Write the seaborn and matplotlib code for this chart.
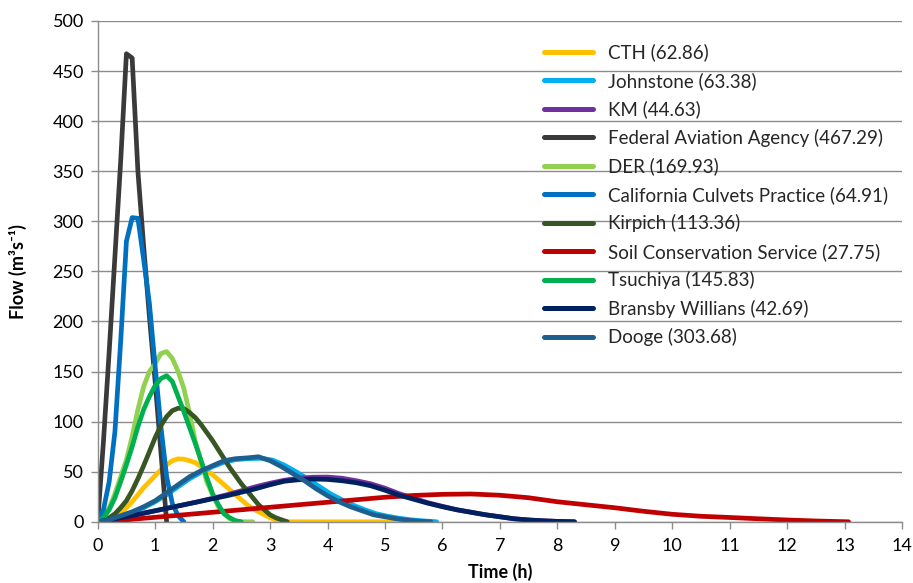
import pandas as pd
import seaborn as sns
import matplotlib.pyplot as plt

# legend text (as printed on the chart) and line colours
methods = ["CTH (62.86)", "Johnstone (63.38)", "KM (44.63)",
           "Federal Aviation Agency (467.29)", "DER (169.93)",
           "California Culvets Practice (64.91)", "Kirpich (113.36)",
           "Soil Conservation Service (27.75)", "Tsuchiya (145.83)",
           "Bransby Willians (42.69)", "Dooge (303.68)"]
colors = ["#FFC000", "#00B0F0", "#7030A0", "#3A3A3A", "#92D050", "#0070C0",
          "#375623", "#C00000", "#00B050", "#002060", "#1F5F8F"]

# flows (m3/s)
q_cth = [0, 1, 2, 5, 9, 14, 20, 27, 34, 40, 46, 52, 57, 61, 62.86, 62.5, 61, 59, 55, 51,
         47, 42, 37, 32, 27, 22, 17, 13, 10, 7, 4, 2, 0] + [0] * 22
q_johnstone = [0, 1.5, 5, 9, 14, 20, 27, 35, 43, 49.5, 55, 59.5, 62, 63, 63.38, 61.5, 56.5,
               50, 43, 35.5, 28, 22, 16.5, 12, 8, 5.5, 3.5, 2, 1, 0]
t_johnstone = [0, 0.2, 0.4, 0.6, 0.8, 1.0, 1.2, 1.4, 1.6, 1.8, 2.0, 2.2, 2.4, 2.6, 2.85, 3.05,
               3.25, 3.45, 3.65, 3.85, 4.05, 4.25, 4.45, 4.65, 4.85, 5.05, 5.25, 5.45, 5.65, 5.9]
q_km = [0, 2.5, 5, 8, 11, 14, 17, 20, 23.5, 27, 31, 35, 38.5, 41.5, 43.5, 44.5, 44.63, 43.5,
        41, 38, 33.5, 28, 23.5, 19, 15.5, 12, 9.5, 7, 5, 3, 1.8, 1, 0.4, 0]
q_faa = [0, 80, 170, 265, 360, 467.29, 463, 350, 275, 205, 140, 70, 0]
q_der = [0, 5, 14, 28, 45, 62, 85, 112, 135, 150, 158, 168, 169.93, 163, 150, 133, 108, 80,
         60, 40, 27, 15, 8, 3, 1, 0, 0, 0]
q_california = [0, 12, 40, 90, 180, 280, 303.68, 303, 262, 218, 155, 95, 45, 18, 6, 0]
q_kirpich = [0, 1, 4, 8, 14, 21, 31, 43, 56, 70, 84, 96, 105, 111, 113.36, 113, 109, 104, 97,
             89, 81, 72, 63, 54, 46, 38, 31, 24, 17, 12, 7, 4, 2, 0]
q_scs = [0, 2, 4.5, 7, 9.5, 12, 14.5, 17, 19.5, 22, 24.5, 26.3, 27.4, 27.75, 26.5, 24, 20,
         17, 14, 10.5, 7.5, 5.5, 4.3, 3, 1.8, 0.8, 0]
t_scs = [0, 0.5, 1, 1.5, 2, 2.5, 3, 3.5, 4, 4.5, 5, 5.5, 6, 6.5, 7, 7.5, 8, 8.5, 9, 9.5, 10,
         10.5, 11, 11.5, 12, 12.5, 13.07]
q_tsuchiya = [0, 4, 12, 24, 40, 57, 75, 95, 112, 125, 136, 143, 145.83, 140, 125, 110, 94, 78,
              61, 44, 28, 17, 8, 4, 1, 0]
q_bransby = [0, 2.5, 5, 8, 11, 14, 17, 20, 23, 26, 29.5, 33, 37, 40.5, 42, 42.69, 42.3, 41,
             39, 36, 31.5, 26.5, 22.5, 18.5, 15, 12, 9.5, 7, 5, 3, 1.8, 1, 0.4, 0]
t_quarter = [0, 0.25, 0.5, 0.75, 1, 1.25, 1.5, 1.75, 2, 2.25, 2.5, 2.75, 3, 3.25, 3.5, 3.75,
             4, 4.25, 4.5, 4.75, 5, 5.25, 5.5, 5.75, 6, 6.25, 6.5, 6.75, 7, 7.25, 7.5, 7.75,
             8, 8.3]
q_dooge = [0, 2, 6, 10, 15, 21, 29, 37, 45, 51, 56, 61, 63, 63.8, 64.91, 61, 55, 48, 41, 33,
           26, 20, 15, 11, 7, 5, 3, 1.5, 0.5, 0]

series = [
    (q_cth, [round(i * 0.1, 2) for i in range(len(q_cth))]),
    (q_johnstone, t_johnstone),
    (q_km, t_quarter),
    (q_faa, [round(i * 0.1, 2) for i in range(len(q_faa))]),
    (q_der, [round(i * 0.1, 2) for i in range(len(q_der))]),
    (q_california, [round(i * 0.1, 2) for i in range(len(q_california))]),
    (q_kirpich, [round(i * 0.1, 2) for i in range(len(q_kirpich))]),
    (q_scs, t_scs),
    (q_tsuchiya, [round(i * 0.1, 2) for i in range(len(q_tsuchiya))]),
    (q_bransby, t_quarter),
    (q_dooge, [round(i * 0.2, 2) for i in range(len(q_dooge))]),
]

frames = []
for name, (q, t) in zip(methods, series):
    frames.append(pd.DataFrame({"Time": t, "Flow": q, "Method": name}))
df = pd.concat(frames, ignore_index=True)

sns.set_theme(style="white")
plt.rcParams["font.family"] = ["Lato", "DejaVu Sans"]

grey = "#8C8C8C"
fig = plt.figure(figsize=(9.13, 5.83), dpi=100)
ax = fig.add_axes([0.107, 0.105, 0.881, 0.859])

sns.lineplot(data=df, x="Time", y="Flow", hue="Method", hue_order=methods,
             palette=dict(zip(methods, colors)), estimator=None, sort=False,
             linewidth=3.4, ax=ax)
for line in ax.get_lines():
    line.set_solid_capstyle("round")
    line.set_solid_joinstyle("round")

ax.set_xlim(0, 14)
ax.set_ylim(0, 500)
ax.set_xticks(range(0, 15))
ax.set_yticks(range(0, 501, 50))
ax.yaxis.grid(True, color=grey, linewidth=1)
ax.set_axisbelow(True)
for s in ["top", "right"]:
    ax.spines[s].set_visible(False)
for s in ["left", "bottom"]:
    ax.spines[s].set_color(grey)
    ax.spines[s].set_linewidth(1)
ax.tick_params(axis="both", which="major", direction="out", length=5, width=1,
               color=grey, labelsize=13, labelcolor="black",
               bottom=True, left=True)
ax.tick_params(axis="x", pad=7)
ax.tick_params(axis="y", pad=5)

ax.set_xlabel("Time (h)", fontsize=13, fontweight="bold", color="black")
ax.set_ylabel("Flow (m³s⁻¹)", fontsize=13, fontweight="bold", color="black")
ax.xaxis.set_label_coords(0.5, -0.082)
ax.yaxis.set_label_coords(-0.088, 0.5)

handles, labels = ax.get_legend_handles_labels()
leg = ax.legend(handles, labels, loc="upper left", bbox_to_anchor=(0.596, 0.925),
                bbox_transform=fig.transFigure, frameon=False, fontsize=13.5,
                handlelength=2.6, handletextpad=0.8, labelspacing=0.56,
                borderpad=0, borderaxespad=0)
for h in leg.get_lines():
    h.set_linewidth(3.6)
    h.set_solid_capstyle("round")

plt.savefig("out.png", dpi=100)
